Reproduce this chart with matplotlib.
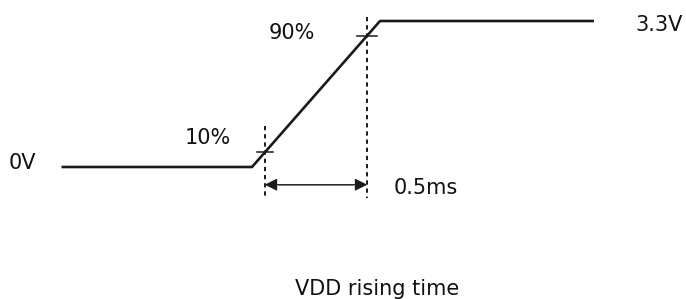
import matplotlib
matplotlib.use("Agg")
import matplotlib.pyplot as plt

# Data (time in ms, voltage in V)
vdd_low = 0.0
vdd_high = 3.3
t_start = -0.93
t_ramp_start = 0.0
t_ramp_end = 0.625
t_end = 1.67
time = [t_start, t_ramp_start, t_ramp_end, t_end]
voltage = [vdd_low, vdd_low, vdd_high, vdd_high]
pct_levels = [0.10, 0.90]
pct_labels = ["10%", "90%"]
rise_label = "0.5ms"
title = "VDD rising time"

fig = plt.figure(figsize=(6.86, 2.99), dpi=100)
ax = fig.add_axes([0, 0, 1, 1])
px_per_ms = 204.8
px_per_v = 44.24
ax.set_xlim(-252 / px_per_ms, (686 - 252) / px_per_ms)
ax.set_ylim(-132 / px_per_v, 167 / px_per_v)
ax.axis("off")

ink = "#1a1a1a"
ax.plot(time, voltage, color=ink, lw=1.9, solid_capstyle="butt")

# 10% / 90% crossing times
ramp = t_ramp_end - t_ramp_start
t10 = t_ramp_start + pct_levels[0] * ramp
t90 = t_ramp_start + pct_levels[1] * ramp
v10 = vdd_low + pct_levels[0] * (vdd_high - vdd_low)
v90 = vdd_low + pct_levels[1] * (vdd_high - vdd_low)

dash = dict(color=ink, lw=1.4, linestyle=(0, (2.2, 2.0)))
ax.plot([t10, t10], [v10 + 0.6, -0.65], **dash)
ax.plot([t90, t90], [vdd_high + 0.1, -0.70], **dash)

# small horizontal ticks at crossings
ax.plot([t10 - 0.04, t10 + 0.04], [v10, v10], color=ink, lw=1.1)
ax.plot([t90 - 0.05, t90 + 0.05], [v90, v90], color=ink, lw=1.1)

# double arrow
y_arrow = -0.40
ax.annotate("", xy=(t10, y_arrow), xytext=(t90, y_arrow),
            arrowprops=dict(arrowstyle="<|-|>", color=ink, lw=0.8,
                            mutation_scale=19, shrinkA=0, shrinkB=0))
ax.plot([t10 + 0.07, t90 - 0.07], [y_arrow, y_arrow], color="#9a9a9a", lw=1.4)

fs = 15
tc = "#111111"
ax.text(t_start - 0.26, vdd_low + 0.08, "0V", fontsize=fs, color=tc, ha="left", va="center")
ax.text(t_end + 0.2, vdd_high - 0.08, "3.3V", fontsize=fs, color=tc, ha="left", va="center")
ax.text(t10 - 0.39, v10 + 0.33, pct_labels[0], fontsize=fs, color=tc, ha="left", va="center")
ax.text(t90 - 0.48, v90 + 0.06, pct_labels[1], fontsize=fs, color=tc, ha="left", va="center")
ax.text(t90 + 0.13, y_arrow - 0.08, rise_label, fontsize=fs, color=tc, ha="left", va="center")
ax.text(0.5 * (288 + 467) / px_per_ms - 252 / px_per_ms, -2.75, title,
        fontsize=fs, color=tc, ha="center", va="center")

fig.savefig("out.png", dpi=100)
